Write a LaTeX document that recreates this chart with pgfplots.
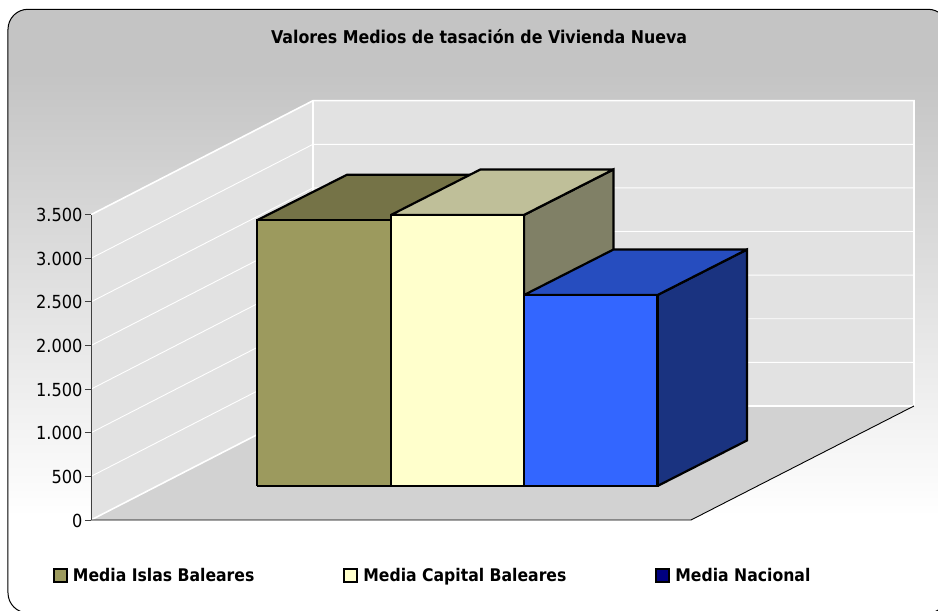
\documentclass[border=0pt]{standalone}
\usepackage{fontspec}
\setmainfont[FakeStretch=0.9]{DejaVu Sans}
\usepackage{pgfplots}
\pgfplotsset{compat=1.18}
\definecolor{olivefront}{HTML}{9C9A5E}
\definecolor{olivetop}{HTML}{757347}
\definecolor{creamfront}{HTML}{FFFFCC}
\definecolor{creamtop}{HTML}{BFBF99}
\definecolor{creamside}{HTML}{808066}
\definecolor{bluefront}{HTML}{3366FF}
\definecolor{bluetop}{HTML}{264DBF}
\definecolor{blueside}{HTML}{1A3380}
\definecolor{navykey}{HTML}{000080}
\definecolor{wallgray}{HTML}{E2E2E2}
\definecolor{floorgray}{HTML}{D2D2D2}
\pgfdeclareverticalshading{framefill}{100bp}{color(0bp)=(white); color(33bp)=(white); color(69.5bp)=(black!23); color(100bp)=(black!23)}
\begin{document}
\begin{tikzpicture}[x=1pt,y=1pt]
\path[use as bounding box, clip] (0,0) rectangle (938,611);
\begin{axis}[
  at={(91pt,91pt)}, anchor=south west, scale only axis,
  width=823pt, height=305.3pt,
  xmin=91, xmax=914, ymin=0, ymax=3500,
  clip=false, axis on top,
  axis x line=none, axis y line=left,
  y axis line style={-, draw=black!75, line width=0.9pt},
  xtick=\empty, ytick={0,500,...,3500},
  tick align=outside, major tick length=6pt,
  ytick style={draw=black!75, line width=0.9pt},
  tick label style={font=\fontsize{18}{20}\selectfont},
  /pgf/number format/assume math mode=true,
  /pgf/number format/.cd, 1000 sep={.}, /pgfplots/.cd,
  yticklabel style={xshift=1pt, yshift=-0.5pt},
  title={\bfseries Valores Medios de tasación de Vivienda Nueva},
  title style={at={(0.4715,1.582)}, anchor=center, yshift=-6pt, font=\fontsize{17.6}{20}\selectfont},
  legend style={at={(axis cs:53,-635)}, anchor=west, draw=none, fill=none,
    inner sep=0pt, outer sep=0pt, font=\fontsize{17.4}{20}\selectfont\bfseries,
    legend columns=3, legend cell align=left,
    /tikz/column 1/.style={column sep=3pt}, /tikz/column 3/.style={column sep=3pt},
    /tikz/column 5/.style={column sep=3pt},
    /tikz/column 2/.style={column sep=87pt}, /tikz/column 4/.style={column sep=87pt}},
  face/.style={forget plot, mark=none, line width=2.2pt, draw=black, line join=miter, miter limit=2},
  wall/.style={forget plot, mark=none, line width=0.9pt, draw=white},
]
% frame with its gradient, runs past the right and bottom edge
\path[draw=black, line width=1pt, rounded corners=20pt, shading=framefill]
  (axis cs:8,5855) rectangle (axis cs:948,-1065);

% walls and floor
\addplot[forget plot, fill=wallgray, draw=none] coordinates {(91,0) (313,1307) (313,4807) (91,3500) (91,0)};
\addplot[forget plot, fill=wallgray, draw=none] coordinates {(313,1307) (914,1307) (914,4807) (313,4807) (313,1307)};
\addplot[forget plot, fill=floorgray, draw=none] coordinates {(91,0) (313,1307) (914,1307) (691,0) (91,0)};

% grid, left wall then back wall
\addplot[wall] coordinates {(91,500) (313,1807) (914,1807)};
\addplot[wall] coordinates {(91,1000) (313,2307) (914,2307)};
\addplot[wall] coordinates {(91,1500) (313,2807) (914,2807)};
\addplot[wall] coordinates {(91,2000) (313,3307) (914,3307)};
\addplot[wall] coordinates {(91,2500) (313,3807) (914,3807)};
\addplot[wall] coordinates {(91,3000) (313,4307) (914,4307)};
\addplot[wall, line width=1.6pt] coordinates {(91,3500) (313,4807) (914,4807) (914,1307) (313,1307) (91,0)};
\addplot[wall, line width=1.6pt] coordinates {(313,1307) (313,4807)};

% floor outline
\addplot[forget plot, draw=black, line width=0.9pt] coordinates {(91,0) (691,0) (914,1307)};

% Media Islas Baleares: 3046 on a base of 390
\addplot[face, fill=olivetop] coordinates {(257,3436) (347,3958) (480,3958) (391,3436) (257,3436)};
\addplot[face, fill=olivefront] coordinates {(257,390) (391,390) (391,3436) (257,3436) (257,390)};
% Media Capital Baleares: 3107
\addplot[face, fill=creamside] coordinates {(524,390) (613.5,912) (613.5,4019) (524,3497) (524,390)};
\addplot[face, fill=creamtop] coordinates {(391,3497) (480.5,4019) (613.5,4019) (524,3497) (391,3497)};
\addplot[face, fill=creamfront] coordinates {(391,390) (524,390) (524,3497) (391,3497) (391,390)};
% Media Nacional: 2189
\addplot[face, fill=blueside] coordinates {(657.5,390) (747,912) (747,3101) (657.5,2579) (657.5,390)};
\addplot[face, fill=bluetop] coordinates {(524,2579) (613.5,3101) (747,3101) (657.5,2579) (524,2579)};
\addplot[face, fill=bluefront] coordinates {(524,390) (657.5,390) (657.5,2579) (524,2579) (524,390)};

\addlegendimage{legend image code/.code={\draw[fill=olivefront, line width=2pt] (0pt,-6.5pt) rectangle (13pt,6.5pt);}}
\addlegendentry{Media Islas Baleares}
\addlegendimage{legend image code/.code={\draw[fill=creamfront, line width=2pt] (0pt,-6.5pt) rectangle (13pt,6.5pt);}}
\addlegendentry{Media Capital Baleares}
\addlegendimage{legend image code/.code={\draw[fill=navykey, line width=2pt] (0pt,-6.5pt) rectangle (13pt,6.5pt);}}
\addlegendentry{Media Nacional}
\end{axis}
\end{tikzpicture}
\end{document}
